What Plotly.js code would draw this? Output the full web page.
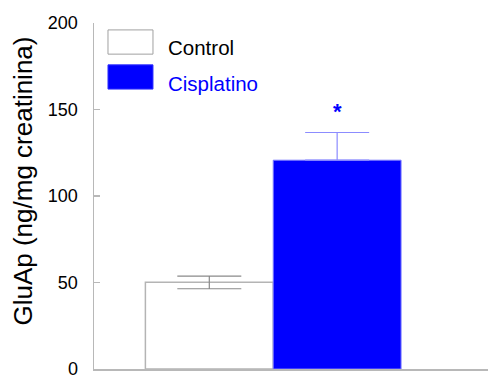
<!DOCTYPE html>
<html>
<head>
<meta charset="utf-8">
<script src="https://cdn.plot.ly/plotly-3.0.1.min.js"></script>
<style>html,body{margin:0;padding:0;background:#fff;}#chart{width:488px;height:376px;}</style>
</head>
<body>
<div id="chart"></div>
<script>
const groups = ["Control", "Cisplatino"];
const means = [50.2, 120.7];
const errUp = [3.5, 16];
const errDown = [3.8, 0];
const yTicks = [0, 50, 100, 150, 200];
const yTitle = "GluAp (ng/mg creatinina)";
const sigMark = "*";
const sigY = 149;

const FONT = "Liberation Sans, Arial, sans-serif";

const traces = [
  {
    type: "bar", x: [groups[0]], y: [means[0]], width: 1, name: groups[0],
    marker: {color: "#ffffff", line: {color: "#b4b4b4", width: 1.5}},
    error_y: {type: "data", symmetric: false, array: [errUp[0]], arrayminus: [errDown[0]],
      color: "#8a8a8a", thickness: 1.2, width: 32},
    showlegend: false, hoverinfo: "none"
  },
  {
    type: "bar", x: [groups[1]], y: [means[1]], width: 1, name: groups[1],
    marker: {color: "#0000ff", line: {color: "#7a7aff", width: 1}},
    error_y: {type: "data", symmetric: false, array: [errUp[1]], arrayminus: [errDown[1]],
      color: "#8c8cff", thickness: 1.2, width: 32},
    showlegend: false, hoverinfo: "none"
  }
];

const layout = {
  width: 488, height: 376,
  margin: {l: 94, r: 0, t: 23, b: 7, pad: 0},
  paper_bgcolor: "#fff", plot_bgcolor: "#fff",
  font: {family: FONT, color: "#000"},
  bargap: 0,
  xaxis: {
    type: "category", categoryarray: groups, range: [-0.902, 2.18],
    showticklabels: false, ticks: "", showgrid: false, zeroline: false,
    showline: true, linecolor: "#b8b8b8", linewidth: 1.5, fixedrange: true
  },
  yaxis: {
    range: [0, 200], tickvals: yTicks, ticktext: yTicks.map(String),
    ticks: "inside", ticklen: 6, tickcolor: "#b8b8b8", tickwidth: 1.5,
    showgrid: false, zeroline: false, showline: true, linecolor: "#b8b8b8", linewidth: 1.5,
    tickfont: {size: 18, family: FONT, color: "#000"}, ticklabelstandoff: 11,
    ticklabeloverflow: "allow",
    fixedrange: true
  },
  shapes: [
    {type: "rect", xref: "paper", yref: "paper", x0: 0.0355, x1: 0.1497, y0: 0.910, y1: 0.980,
      fillcolor: "#ffffff", line: {color: "#a0a0a0", width: 1}},
    {type: "rect", xref: "paper", yref: "paper", x0: 0.0355, x1: 0.1497, y0: 0.809, y1: 0.879,
      fillcolor: "#0000ff", line: {color: "#3030ff", width: 1}}
  ],
  annotations: [
    {xref: "paper", yref: "paper", x: -0.18, y: 0.542, xanchor: "center", yanchor: "middle",
      textangle: -90, text: yTitle, showarrow: false, font: {size: 26, family: FONT, color: "#000"}},
    {xref: "paper", yref: "paper", x: 0.183, y: 0.929, xanchor: "left", yanchor: "middle",
      text: groups[0], showarrow: false, font: {size: 20.5, family: FONT, color: "#000"}},
    {xref: "paper", yref: "paper", x: 0.183, y: 0.826, xanchor: "left", yanchor: "middle",
      text: groups[1], showarrow: false, font: {size: 20.5, family: FONT, color: "#0000ff"}},
    {x: groups[1], y: sigY, xref: "x", yref: "y", text: "<b>" + sigMark + "</b>", showarrow: false,
      xanchor: "center", yanchor: "middle", font: {size: 22, family: FONT, color: "#0000ff"}}
  ]
};

Plotly.newPlot("chart", traces, layout, {displayModeBar: false, staticPlot: true});
</script>
</body>
</html>
